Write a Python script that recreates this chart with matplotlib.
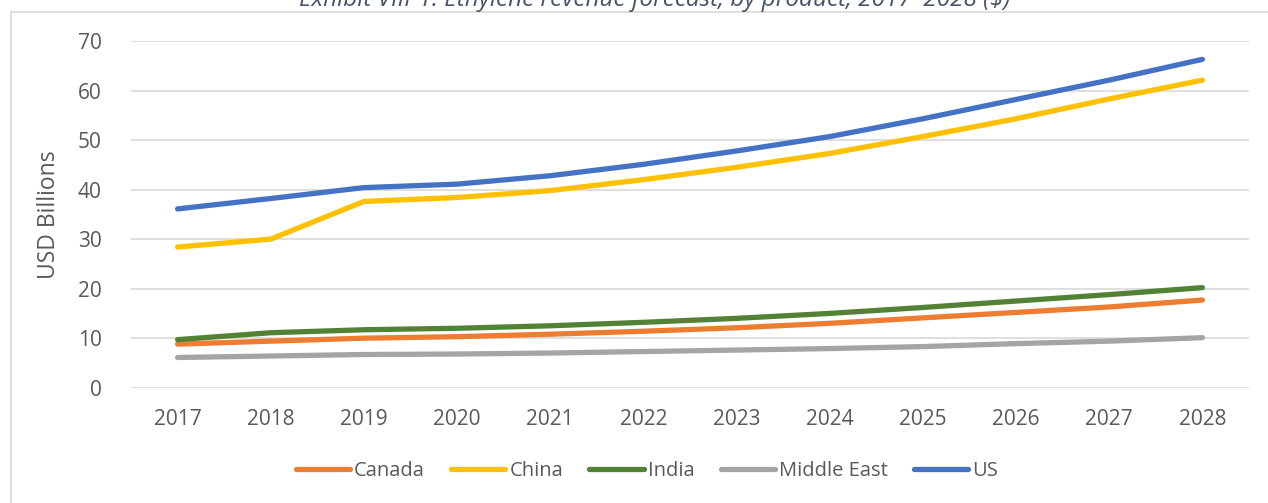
import matplotlib
matplotlib.use("Agg")
import matplotlib.pyplot as plt
from matplotlib.lines import Line2D

years = [2017, 2018, 2019, 2020, 2021, 2022, 2023, 2024, 2025, 2026, 2027, 2028]
canada = [8.8, 9.4, 10.0, 10.3, 10.8, 11.4, 12.1, 13.0, 14.1, 15.2, 16.3, 17.7]
china = [28.4, 30.0, 37.6, 38.4, 39.8, 42.0, 44.5, 47.3, 50.7, 54.3, 58.3, 62.1]
india = [9.7, 11.1, 11.7, 12.0, 12.5, 13.2, 14.0, 15.0, 16.2, 17.5, 18.8, 20.2]
middle_east = [6.1, 6.4, 6.7, 6.8, 7.0, 7.3, 7.6, 7.9, 8.3, 8.9, 9.4, 10.1]
us = [36.1, 38.2, 40.4, 41.1, 42.8, 45.1, 47.8, 50.7, 54.3, 58.2, 62.1, 66.3]

series = [
    ("Canada", canada, "#ED7D31"),
    ("China", china, "#FFC000"),
    ("India", india, "#548235"),
    ("Middle East", middle_east, "#A5A5A5"),
    ("US", us, "#4472C4"),
]

plt.rcParams["font.family"] = ["Open Sans", "DejaVu Sans"]
W, H = 1268, 503
fig = plt.figure(figsize=(W / 100, H / 100), dpi=100)
ax = fig.add_axes([131 / W, 1 - 387.7 / H, (1249 - 131) / W, (387.7 - 41) / H])

x = range(len(years))
for name, vals, col in series:
    ax.plot(x, vals, color=col, lw=3.8, solid_capstyle="round", solid_joinstyle="round",
            label=name, zorder=3)

ax.set_xlim(-0.5, len(years) - 0.5)
ax.set_ylim(0, 70)
ax.set_yticks(range(0, 71, 10))
ax.set_xticks(list(x))
ax.set_xticklabels([str(y) for y in years])
ax.grid(axis="y", color="#D9D9D9", lw=1.2, zorder=0)
for s in ax.spines.values():
    s.set_visible(False)
ax.tick_params(length=0, labelsize=15, labelcolor="#595959")
ax.tick_params(axis="y", pad=21)
ax.tick_params(axis="x", pad=15)
ax.set_ylabel("USD Billions", fontsize=16.5, color="#595959")
ax.yaxis.set_label_coords((61 - 131) / (1249 - 131), 0.5)

handles = [Line2D([], [], color=c, lw=3.8, solid_capstyle="round") for _, _, c in series]
fig.legend(handles, [n for n, _, _ in series], loc="center", bbox_to_anchor=(647 / W, 1 - 471 / H),
           ncol=5, frameon=False, fontsize=14.5, handlelength=2.7, handletextpad=0.2,
           columnspacing=1.3, labelcolor="#595959")

fig.text(655 / W, 1 - 6 / H, "Exhibit VIII-1. Ethylene revenue forecast, by product, 2017–2028 ($)",
         ha="center", va="baseline", fontsize=17.5, style="italic", color="#44546A")

# chart frame, partly cropped
fig.add_artist(Line2D([11 / W, 1], [1 - 12 / H, 1 - 12 / H], transform=fig.transFigure,
                      color="#D9D9D9", lw=1.2))
fig.add_artist(Line2D([11 / W, 11 / W], [0, 1 - 12 / H], transform=fig.transFigure,
                      color="#D9D9D9", lw=1.2))

fig.savefig("out.png", dpi=100)
